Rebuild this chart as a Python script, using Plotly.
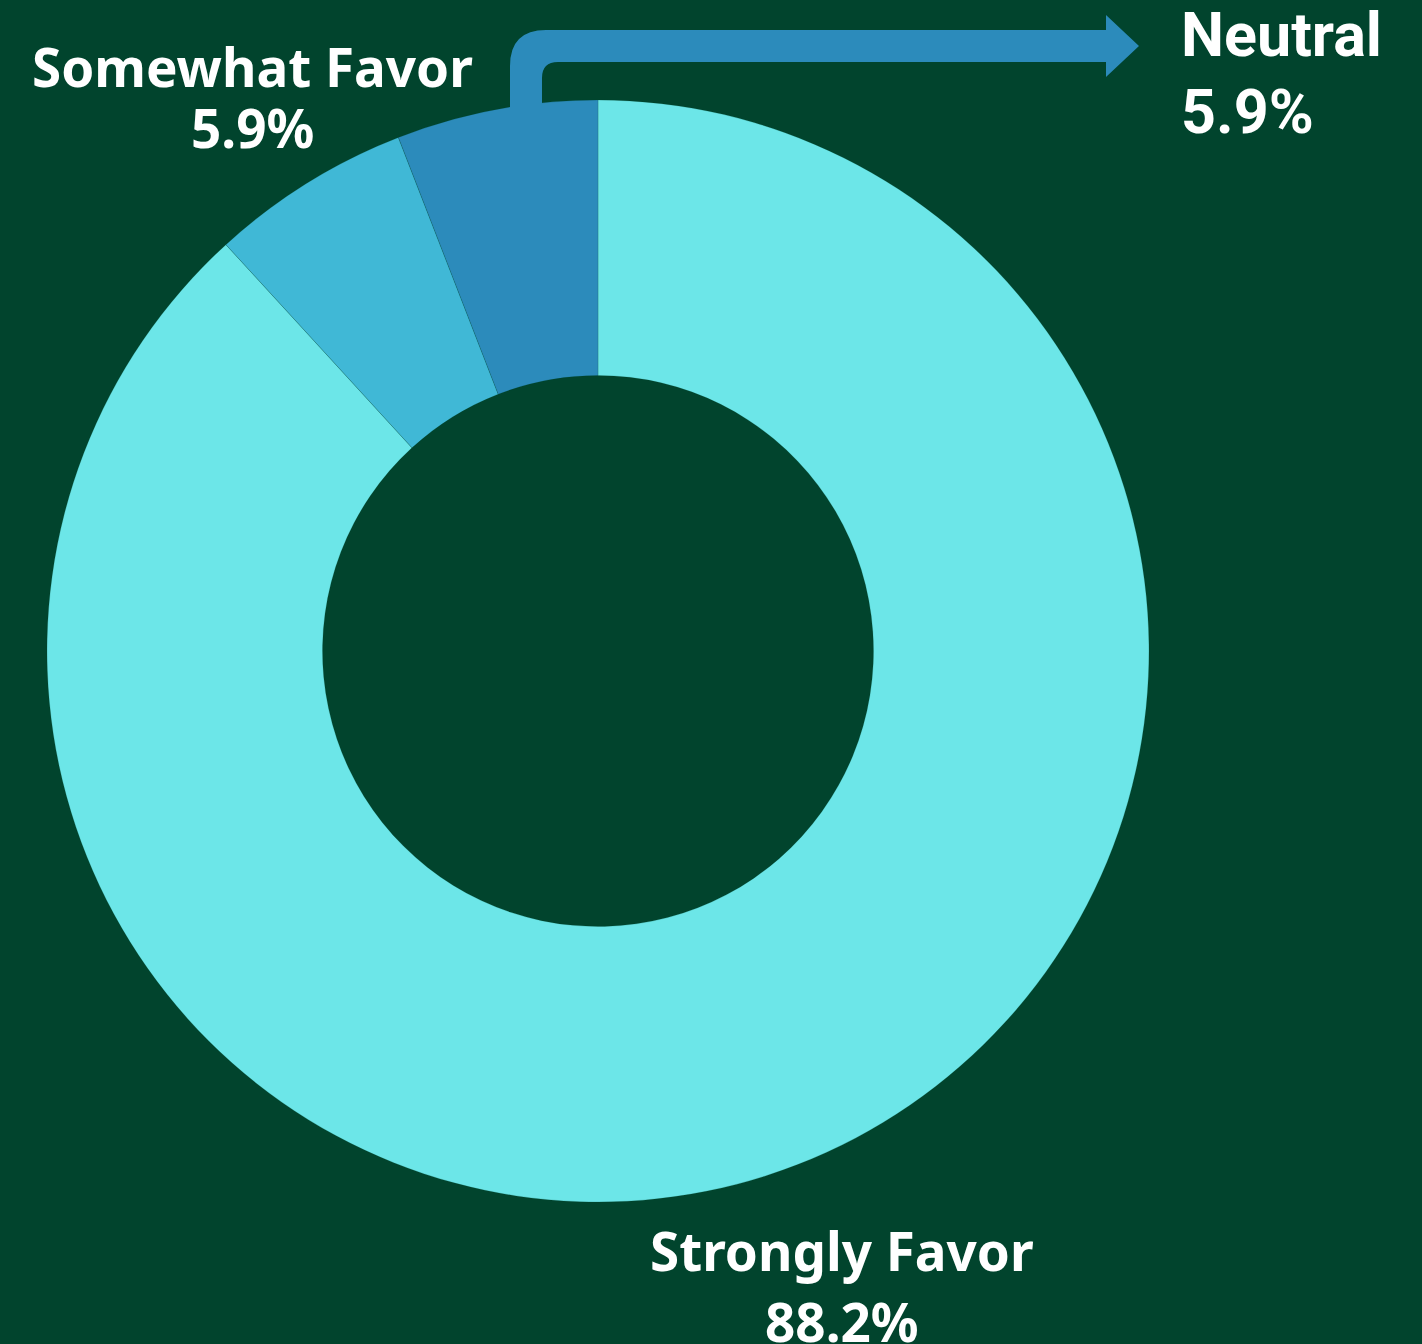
import plotly.graph_objects as go

# ---- data ----
categories = ["Strongly Favor", "Somewhat Favor", "Neutral"]
values = [88.2, 5.9, 5.9]
pct_labels = ["88.2%", "5.9%", "5.9%"]
colors = ["#6CE6E8", "#40B8D6", "#2C8BBB"]

BG = "#01442D"
W, H = 1422, 1344


def px(x, y):
    return x / W, 1 - y / H


fig = go.Figure()
fig.add_trace(go.Pie(
    labels=categories,
    values=values,
    hole=0.5,
    sort=False,
    direction="clockwise",
    rotation=0,
    textinfo="none",
    hoverinfo="label+percent",
    marker=dict(colors=colors, line=dict(color="rgba(1,68,45,0.18)", width=1)),
    domain=dict(x=[47 / W, 1149 / W], y=[(H - 1202) / H, (H - 100) / H]),
    showlegend=False,
))

# bent arrow from Neutral slice to its label
pts = [(510, 108), (510, 66), ("Q", 510, 30, 546, 30), (1106, 30), (1106, 15),
       (1139, 46), (1106, 77), (1106, 62), (558, 62), ("Q", 542, 62, 542, 78), (542, 108)]
path = ""
for i, p in enumerate(pts):
    if p[0] == "Q":
        a = px(p[1], p[2]); b = px(p[3], p[4])
        path += f" Q {a[0]:.5f},{a[1]:.5f} {b[0]:.5f},{b[1]:.5f}"
    else:
        a = px(*p)
        path += (" M " if i == 0 else " L ") + f"{a[0]:.5f},{a[1]:.5f}"
path += " Z"
fig.add_shape(type="path", path=path, xref="paper", yref="paper",
              fillcolor=colors[2], line=dict(width=0), layer="above")

lab_font = dict(family="Noto Sans, Open Sans, sans-serif", size=53, color="#FFFFFF", weight="bold")
neu_font = dict(family="Roboto, Liberation Sans, sans-serif", size=61, color="#FFFFFF", weight="bold")

anns = [
    (categories[1], 252, 66, lab_font, "center"),
    (pct_labels[1], 252, 127, lab_font, "center"),
    (categories[0], 842, 1250, lab_font, "center"),
    (pct_labels[0], 842, 1321, lab_font, "center"),
    (categories[2], 1179, 35, neu_font, "left"),
    (pct_labels[2], 1179, 112, neu_font, "left"),
]
for text, x, y, f, xa in anns:
    ax, ay = px(x, y)
    fig.add_annotation(text=text, x=ax, y=ay, xref="paper", yref="paper",
                       xanchor=xa, yanchor="middle", showarrow=False, font=f)

fig.update_layout(
    width=W, height=H,
    margin=dict(l=0, r=0, t=0, b=0),
    paper_bgcolor=BG, plot_bgcolor=BG,
)

fig.write_html("out.html",
               config={"displayModeBar": False},
               post_script="document.body.style.margin='0';document.body.style.background='#01442D';")
